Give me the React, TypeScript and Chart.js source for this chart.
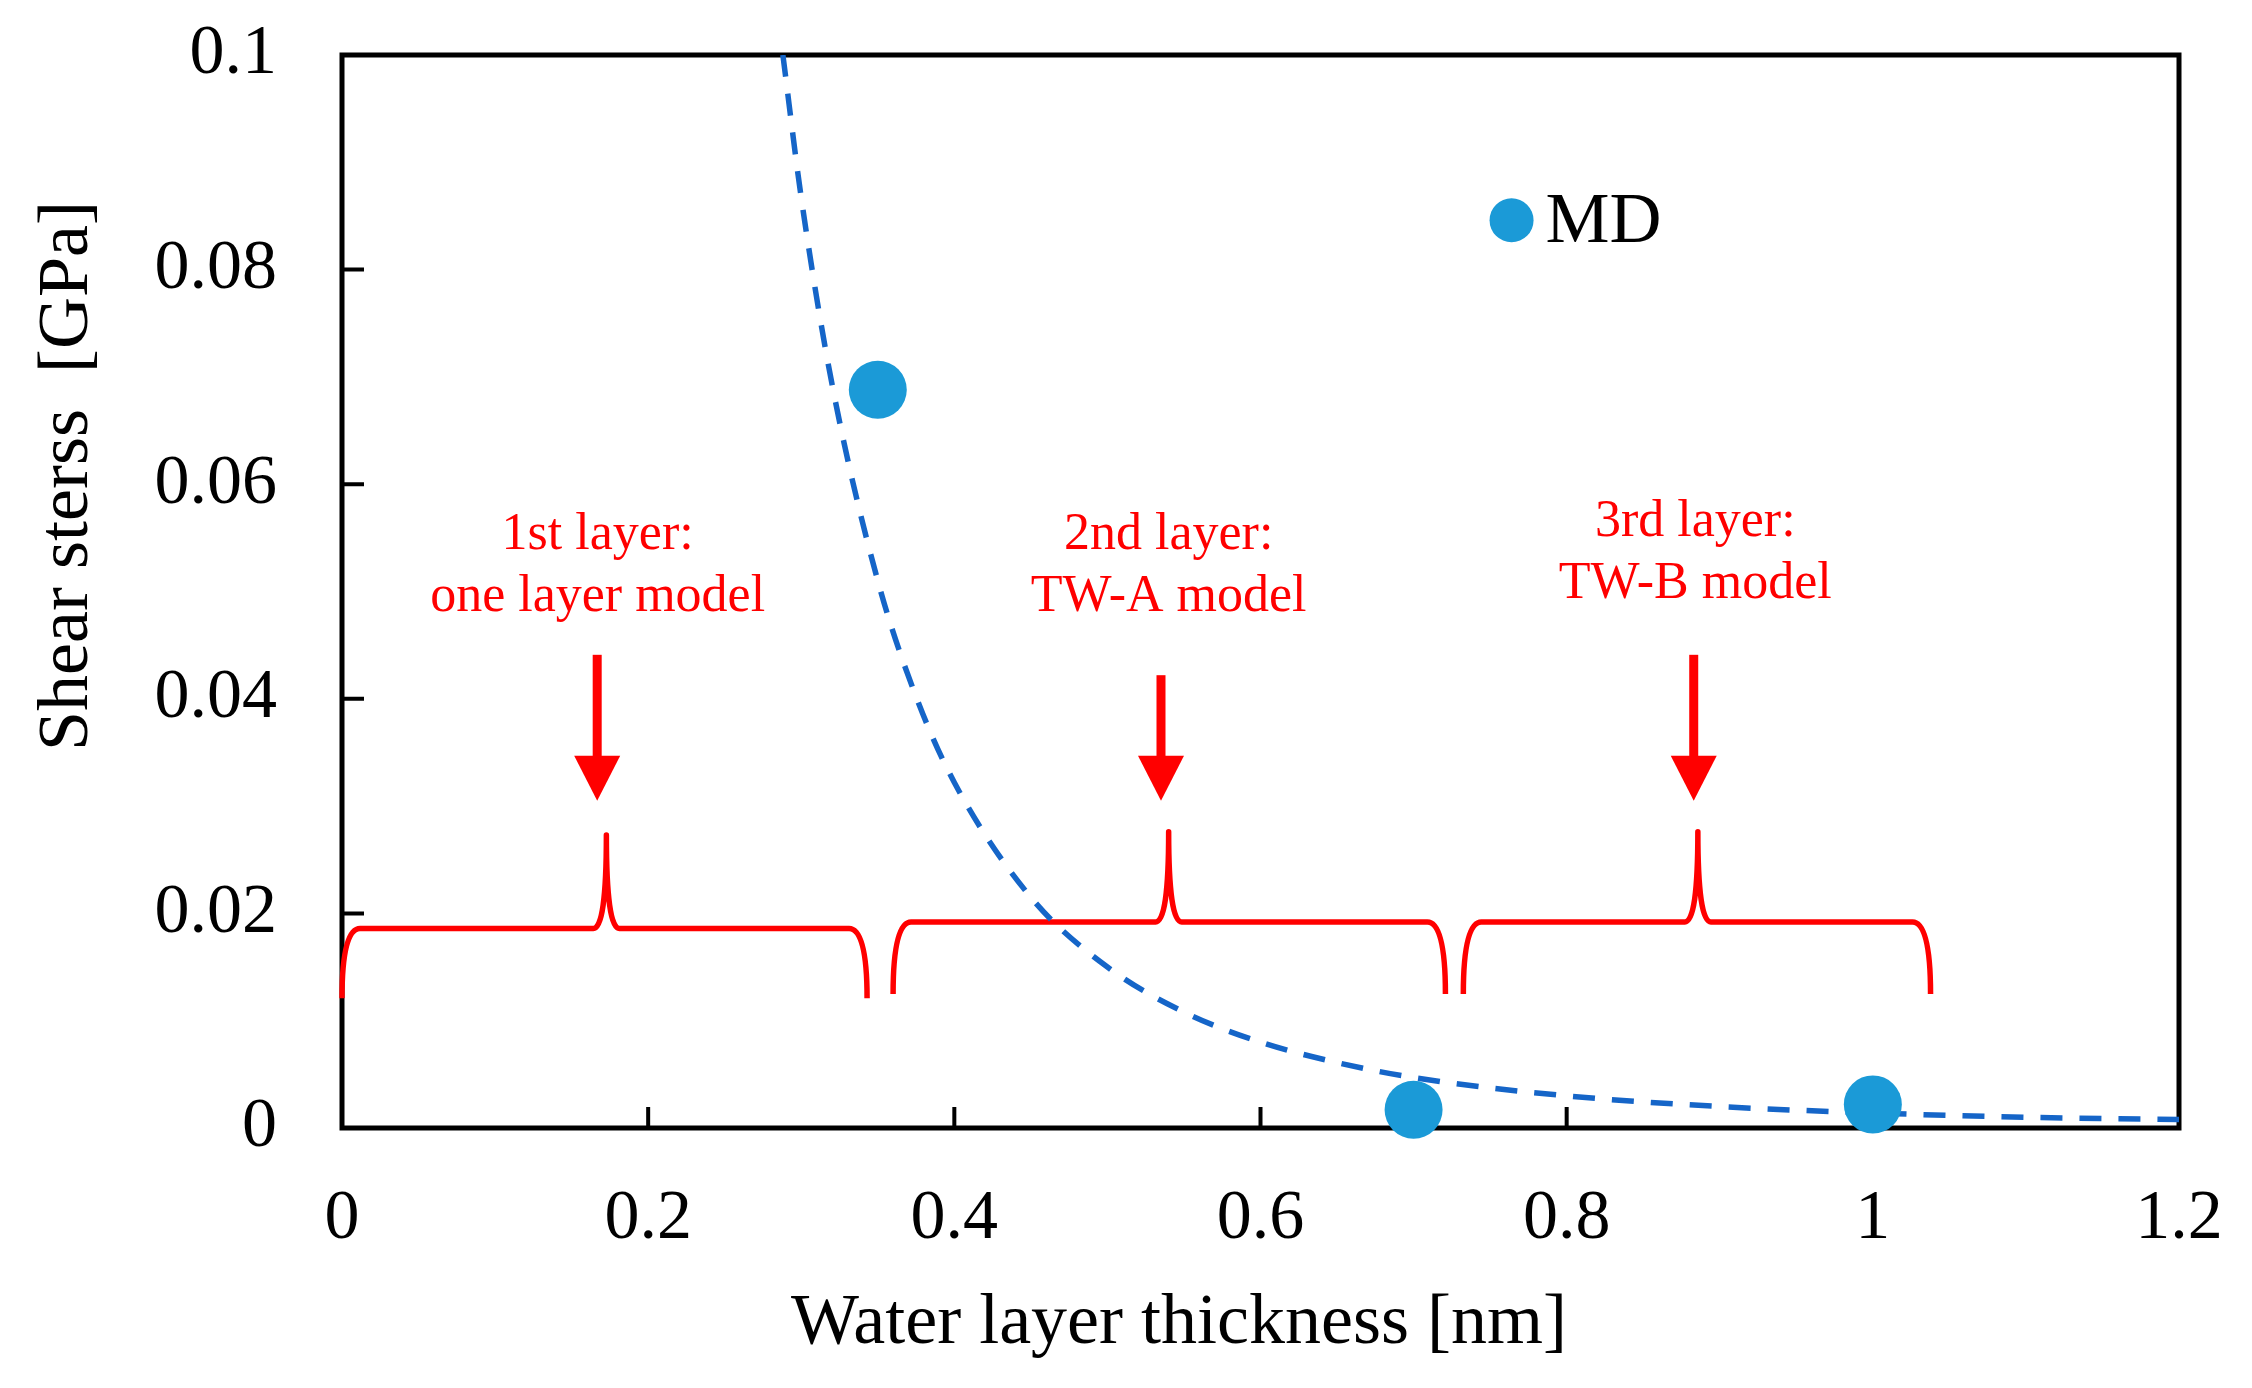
import React, { useEffect, useRef } from 'react';
import { Chart, registerables } from 'chart.js';

Chart.register(...registerables);

// ---- data ----
const mdX = [0.35, 0.70, 1.00];
const mdY = [0.0688, 0.0017, 0.0022];

const fitX = [0.288, 0.30, 0.32, 0.35, 0.375, 0.40, 0.45, 0.50, 0.55, 0.60, 0.65, 0.70, 0.80, 0.90, 1.00, 1.10, 1.20];
const fitY = [0.100, 0.0867, 0.0694, 0.0510, 0.0402, 0.0322, 0.0215, 0.0150, 0.0108, 0.0080, 0.0061, 0.0047, 0.0030, 0.0020, 0.0014, 0.0010, 0.0008];

const xTickValues = [0, 0.2, 0.4, 0.6, 0.8, 1.0, 1.2];
const xTickLabels = ['0', '0.2', '0.4', '0.6', '0.8', '1', '1.2'];
const yTickValues = [0, 0.02, 0.04, 0.06, 0.08, 0.1];
const yTickLabels = ['0', '0.02', '0.04', '0.06', '0.08', '0.1'];

const seriesName = 'MD';
const xTitle = 'Water layer thickness [nm]';
const yTitle = 'Shear sterss  [GPa]';

// annotations (data coordinates)
const layerLine1 = ['1st layer:', '2nd layer:', '3rd layer:'];
const layerLine2 = ['one layer model', 'TW-A model', 'TW-B model'];
const labelX = [0.167, 0.540, 0.884];
const labelY1 = [0.0540, 0.0540, 0.0552];
const labelY2 = [0.0482, 0.0482, 0.0494];

const arrowX = [0.1667, 0.535, 0.8830];
const arrowTop = [0.0441, 0.0422, 0.0441];
const arrowTip = [0.0305, 0.0305, 0.0305];

const braceStart = [0.0, 0.36, 0.7325];
const braceEnd = [0.343, 0.7208, 1.0377];
const braceMid = [0.1727, 0.540, 0.8857];
const braceBase = [0.0121, 0.0125, 0.0125];
const braceLevel = [0.0186, 0.0192, 0.0192];
const braceTip = [0.0273, 0.0276, 0.0276];

const legendX = 0.764;
const legendY = 0.0846;

const W = 2252;
const H = 1388;
const FONT = '"Liberation Serif", "Times New Roman", serif';
const DOT = '#1b9ad7';
const CURVE = '#1565c8';
const RED = '#ff0000';

const decorPlugin = {
  id: 'decor',
  beforeDatasetsDraw(chart: any) {
    const { ctx, chartArea: a, scales } = chart;
    const x = scales.x;
    const y = scales.y;
    ctx.save();
    // frame
    ctx.strokeStyle = '#000';
    ctx.lineWidth = 5;
    ctx.strokeRect(a.left, a.top, a.right - a.left, a.bottom - a.top);
    // inward ticks
    ctx.lineWidth = 4;
    ctx.beginPath();
    xTickValues.slice(1, -1).forEach((v) => {
      const px = x.getPixelForValue(v);
      ctx.moveTo(px, a.bottom);
      ctx.lineTo(px, a.bottom - 21);
    });
    yTickValues.slice(1, -1).forEach((v) => {
      const py = y.getPixelForValue(v);
      ctx.moveTo(a.left, py);
      ctx.lineTo(a.left + 22, py);
    });
    ctx.stroke();

    // braces
    ctx.strokeStyle = RED;
    ctx.lineWidth = 5.5;
    ctx.lineJoin = 'round';
    for (let i = 0; i < braceStart.length; i++) {
      const xs = x.getPixelForValue(braceStart[i]);
      const xe = x.getPixelForValue(braceEnd[i]);
      const xm = x.getPixelForValue(braceMid[i]);
      const yb = y.getPixelForValue(braceBase[i]);
      const yl = y.getPixelForValue(braceLevel[i]);
      const yt = y.getPixelForValue(braceTip[i]);
      const r = 18;
      const rc = 13;
      ctx.beginPath();
      ctx.moveTo(xs, yb);
      ctx.quadraticCurveTo(xs, yl, xs + r, yl);
      ctx.lineTo(xm - rc, yl);
      ctx.quadraticCurveTo(xm, yl, xm, yt);
      ctx.quadraticCurveTo(xm, yl, xm + rc, yl);
      ctx.lineTo(xe - r, yl);
      ctx.quadraticCurveTo(xe, yl, xe, yb);
      ctx.stroke();
    }

    // arrows
    ctx.fillStyle = RED;
    for (let i = 0; i < arrowX.length; i++) {
      const px = x.getPixelForValue(arrowX[i]);
      const pt = y.getPixelForValue(arrowTop[i]);
      const pb = y.getPixelForValue(arrowTip[i]);
      const hh = 45;
      const hw = 23;
      ctx.fillRect(px - 4.5, pt, 9, pb - hh - pt + 2);
      ctx.beginPath();
      ctx.moveTo(px - hw, pb - hh);
      ctx.lineTo(px + hw, pb - hh);
      ctx.lineTo(px, pb);
      ctx.closePath();
      ctx.fill();
    }

    // labels
    ctx.font = `52px ${FONT}`;
    ctx.textAlign = 'center';
    ctx.textBaseline = 'alphabetic';
    for (let i = 0; i < labelX.length; i++) {
      const px = x.getPixelForValue(labelX[i]);
      ctx.fillText(layerLine1[i], px, y.getPixelForValue(labelY1[i]));
      ctx.fillText(layerLine2[i], px, y.getPixelForValue(labelY2[i]));
    }
    ctx.restore();
  },
  afterDraw(chart: any) {
    const { ctx, scales } = chart;
    const x = scales.x;
    const y = scales.y;
    ctx.save();
    // legend
    const lx = x.getPixelForValue(legendX);
    const ly = y.getPixelForValue(legendY);
    ctx.fillStyle = DOT;
    ctx.beginPath();
    ctx.arc(lx, ly, 22, 0, Math.PI * 2);
    ctx.fill();
    ctx.fillStyle = '#000';
    ctx.font = `72px ${FONT}`;
    ctx.textAlign = 'left';
    ctx.textBaseline = 'alphabetic';
    ctx.fillText(seriesName, lx + 34, ly + 22);

    // axis titles
    ctx.textAlign = 'center';
    ctx.fillText(xTitle, 1179, 1343);
    ctx.translate(68, 476);
    ctx.rotate(-Math.PI / 2);
    ctx.textBaseline = 'middle';
    ctx.fillText(yTitle, 0, 0);
    ctx.restore();
  },
};

export default function App() {
  const ref = useRef<HTMLCanvasElement>(null);
  useEffect(() => {
    document.body.style.margin = '0';
    const canvas = ref.current!;
    const chart = new Chart(canvas, {
      type: 'scatter',
      data: {
        datasets: [
          {
            type: 'line',
            label: 'fit',
            data: fitX.map((v, i) => ({ x: v, y: fitY[i] })),
            borderColor: CURVE,
            borderWidth: 5.5,
            borderDash: [22, 17],
            pointRadius: 0,
            fill: false,
            cubicInterpolationMode: 'monotone',
            order: 2,
          } as any,
          {
            label: seriesName,
            data: mdX.map((v, i) => ({ x: v, y: mdY[i] })),
            backgroundColor: DOT,
            borderColor: DOT,
            borderWidth: 0,
            pointRadius: 29,
            pointHoverRadius: 29,
            clip: false,
            order: 1,
          } as any,
        ],
      },
      options: {
        responsive: false,
        animation: false,
        devicePixelRatio: 1,
        events: [],
        layout: { autoPadding: false, padding: { top: 55, right: 73, left: 0, bottom: 0 } },
        plugins: {
          legend: { display: false },
          tooltip: { enabled: false },
          title: { display: false },
        },
        scales: {
          x: {
            type: 'linear',
            min: 0,
            max: 1.2,
            afterBuildTicks: (s: any) => {
              s.ticks = xTickValues.map((v) => ({ value: v }));
            },
            afterFit: (s: any) => {
              s.height = H - 1128;
              s.paddingLeft = 0;
              s.paddingRight = 0;
            },
            grid: { display: false, drawTicks: false },
            border: { display: false },
            ticks: {
              autoSkip: false,
              maxRotation: 0,
              padding: 50,
              color: '#000',
              font: { family: FONT, size: 70 },
              callback: (_v: any, i: number) => xTickLabels[i],
            },
          },
          y: {
            type: 'linear',
            min: 0,
            max: 0.1,
            afterBuildTicks: (s: any) => {
              s.ticks = yTickValues.map((v) => ({ value: v }));
            },
            afterFit: (s: any) => {
              s.width = 342;
              s.paddingTop = 0;
              s.paddingBottom = 0;
            },
            grid: { display: false, drawTicks: false },
            border: { display: false },
            ticks: {
              autoSkip: false,
              padding: 65,
              color: '#000',
              font: { family: FONT, size: 70 },
              callback: (_v: any, i: number) => yTickLabels[i],
            },
          },
        },
      } as any,
      plugins: [decorPlugin],
    });
    return () => chart.destroy();
  }, []);
  return (
    <div style={{ width: W, height: H, background: '#fff' }}>
      <canvas ref={ref} width={W} height={H} style={{ width: W, height: H, display: 'block' }} />
    </div>
  );
}
